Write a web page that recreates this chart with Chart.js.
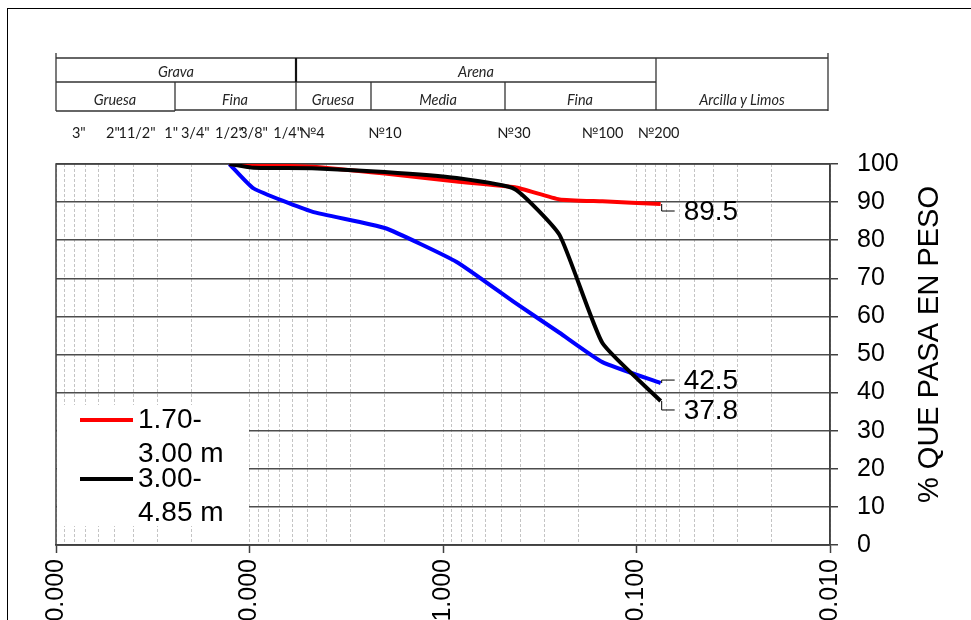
<!DOCTYPE html>
<html>
<head>
<meta charset="utf-8">
<script src="https://cdn.jsdelivr.net/npm/chart.js@4.4.1/dist/chart.umd.min.js"></script>
<style>
  html, body { margin:0; padding:0; width:971px; height:620px; overflow:hidden; background:#fff; }
  #frame { position:absolute; left:7px; top:8px; width:1100px; height:900px; border:1.5px solid #000; box-sizing:border-box; }
  #wrap { position:absolute; left:0; top:0; width:971px; height:680px; }
  #chart { position:absolute; left:0; top:0; }
  #table { position:absolute; left:0; top:0; }
  .hdr { font-family: Lato, "Open Sans", sans-serif; font-style:italic; font-size:14.5px; fill:#262626; }
  .sieve { position:absolute; top:124px; transform:translateX(-50%); font-family: Lato, "Noto Sans", sans-serif; font-size:14.5px; color:#1a1a1a; white-space:nowrap; line-height:18px; }
  #legend { position:absolute; left:57px; top:405px; width:192px; height:121px; background:#fff; }
  .lg-line { position:absolute; left:80px; width:53px; height:4px; }
  .lg-text { position:absolute; left:138px; font-family:"Liberation Sans", Arial, sans-serif; font-size:28px; line-height:34px; color:#000; white-space:nowrap; }
</style>
</head>
<body>
<div id="frame"></div>
<div id="wrap">
  <canvas id="chart" width="971" height="680"></canvas>
  <svg id="table" width="971" height="160">
    <g stroke="#333" stroke-width="1.3" fill="none">
      <line x1="56" y1="58" x2="828" y2="58"/>
      <line x1="56" y1="53" x2="56" y2="111"/>
      <line x1="828" y1="53" x2="828" y2="111"/>
      <line x1="56" y1="82" x2="656" y2="82"/>
      <line x1="56" y1="111" x2="175" y2="111"/>
      <line x1="175" y1="110" x2="828" y2="110"/>
      <line x1="175" y1="82" x2="175" y2="111"/>
      <line x1="296" y1="58" x2="296" y2="82" stroke-width="2.2" stroke="#111"/>
      <line x1="296" y1="82" x2="296" y2="110"/>
      <line x1="371" y1="82" x2="371" y2="110"/>
      <line x1="505" y1="82" x2="505" y2="110"/>
      <line x1="656" y1="58" x2="656" y2="110"/>
    </g>
    <g id="hdrText" text-anchor="middle"></g>
  </svg>
  <div id="legend"></div>
</div>
<script>
// ---- data ----
const sieveSizes   = [12.7, 9.525, 4.75, 2.0, 0.85, 0.425, 0.25, 0.15, 0.075];      // mm
const pass170_300  = [100, 99.7, 99.3, 97.5, 95.4, 93.9, 90.7, 90.2, 89.5];
const pass300_485  = [100, 99.0, 98.9, 97.9, 96.3, 93.4, 81.4, 53.0, 37.8];
const passBlue     = [100, 93.6, 87.5, 83.2, 74.3, 63.6, 55.7, 48.0, 42.5];
const seriesNames  = ['1.70-3.00 m', '3.00-4.85 m', ''];
const seriesColors = ['#ff0000', '#000000', '#0000ff'];

const xGridValues = [0.01,0.02,0.03,0.04,0.05,0.06,0.07,0.08,0.09,
                     0.1,0.2,0.3,0.4,0.5,0.6,0.7,0.8,0.9,
                     1,2,3,4,5,6,7,8,9,
                     10,20,30,40,50,60,70,80,90,100];
const xDecades = [0.01, 0.1, 1, 10, 100];

const sieveLabelSizes = [76.2, 50.8, 38.1, 25.4, 19.05, 12.7, 9.525, 6.35, 4.75, 2.0, 0.43, 0.15, 0.077];
const sieveLabelTexts = ['3"', '2"', '11/2"', '1"', '3/4"', '1/2"', '3/8"', '1/4"', '№4', '№10', '№30', '№100', '№200'];

const headerTop = [['Grava', 176, 77], ['Arena', 476, 77]];
const headerSub = [['Gruesa', 115, 105], ['Fina', 235, 105], ['Gruesa', 333, 105], ['Media', 438, 105], ['Fina', 580, 105], ['Arcilla y Limos', 742, 105]];
const yTitle = '% QUE PASA EN PESO';

// ---- header texts ----
const hg = document.getElementById('hdrText');
[...headerTop, ...headerSub].forEach(([t, x, y]) => {
  const el = document.createElementNS('http://www.w3.org/2000/svg', 'text');
  el.setAttribute('x', x); el.setAttribute('y', y); el.setAttribute('class', 'hdr');
  el.textContent = t; hg.appendChild(el);
});

const isDecade = v => Math.abs(Math.log10(v) - Math.round(Math.log10(v))) < 1e-9;
const FONT = '"Liberation Sans", Arial, sans-serif';
Chart.defaults.font.family = FONT;

const labelOffsets = [7, 9, -3]; // vertical offset of end labels

const endLabels = {
  id: 'endLabels',
  afterDatasetsDraw(chart) {
    const ctx = chart.ctx;
    chart.data.datasets.forEach((ds, i) => {
      const meta = chart.getDatasetMeta(i);
      const pt = meta.data[meta.data.length - 1];
      const val = ds.data[ds.data.length - 1].y;
      const ly = pt.y + labelOffsets[i];
      ctx.save();
      ctx.strokeStyle = '#000'; ctx.lineWidth = 1;
      ctx.beginPath();
      ctx.moveTo(pt.x + 1, pt.y); ctx.lineTo(pt.x + 1, ly); ctx.lineTo(pt.x + 14, ly);
      ctx.stroke();
      ctx.fillStyle = '#000'; ctx.font = '28px ' + FONT;
      ctx.textBaseline = 'middle'; ctx.textAlign = 'left';
      ctx.fillText(val.toFixed(1), pt.x + 23, ly + 1);
      ctx.restore();
    });
  }
};

const frame = {
  id: 'frame',
  beforeDatasetsDraw(chart) {
    const {ctx, chartArea: a} = chart;
    ctx.save(); ctx.strokeStyle = '#404040'; ctx.lineWidth = 1.5;
    ctx.strokeRect(a.left, a.top, a.right - a.left, a.bottom - a.top);
    ctx.restore();
  },
  afterDraw(chart) {
    const {ctx, chartArea: a} = chart;
    ctx.save();
    ctx.translate(930, (a.top + a.bottom) / 2 - 10);
    ctx.rotate(-Math.PI / 2);
    ctx.font = '29px ' + FONT; ctx.fillStyle = '#000';
    ctx.textAlign = 'center'; ctx.textBaseline = 'middle';
    ctx.fillText(yTitle, 0, 0);
    ctx.restore();
  }
};

const series = [pass170_300, pass300_485, passBlue];
const chart = new Chart(document.getElementById('chart'), {
  type: 'line',
  data: {
    datasets: series.map((arr, i) => ({
      label: seriesNames[i],
      data: sieveSizes.map((s, j) => ({x: s, y: arr[j]})),
      borderColor: seriesColors[i],
      borderWidth: 4,
      pointRadius: 0,
      tension: 0.15,
      fill: false,
      order: [1, 0, 2][i]
    }))
  },
  options: {
    responsive: false,
    animation: false,
    layout: { padding: { left: 56, top: 164, right: 0, bottom: 0 } },
    plugins: { legend: { display: false }, tooltip: { enabled: false } },
    scales: {
      x: {
        type: 'logarithmic',
        reverse: true,
        min: 0.01, max: 100,
        afterBuildTicks: s => { s.ticks = xGridValues.map(v => ({value: v, major: isDecade(v)})); },
        afterFit: s => { s.height = 135; },
        ticks: {
          autoSkip: false, minRotation: 90, maxRotation: 90, padding: 6,
          font: { size: 25 }, color: '#000',
          callback: v => isDecade(v) ? Number(v).toFixed(3) : ''
        },
        grid: {
          color: '#c4c4c4', lineWidth: 1, tickLength: 8,
          tickColor: c => (c.tick && isDecade(c.tick.value)) ? '#404040' : 'rgba(0,0,0,0)',
          tickWidth: 1.5
        },
        border: { color: '#404040', width: 1.5, dash: [3, 2] }
      },
      y: {
        position: 'right',
        min: 0, max: 100,
        afterFit: s => { s.width = 141; },
        ticks: { stepSize: 10, padding: 19, font: { size: 25 }, color: '#000' },
        grid: { color: '#4d4d4d', lineWidth: 1.5, tickLength: 8, tickColor: '#404040' },
        border: { color: '#404040', width: 1.5 }
      }
    }
  },
  plugins: [frame, endLabels]
});

// ---- sieve labels positioned through the x scale ----
const wrap = document.getElementById('wrap');
sieveLabelSizes.forEach((s, i) => {
  const d = document.createElement('div');
  d.className = 'sieve';
  d.textContent = sieveLabelTexts[i];
  d.style.left = chart.scales.x.getPixelForValue(s) + 'px';
  wrap.appendChild(d);
});

// ---- legend ----
let row = 0;
chart.data.datasets.forEach((ds, i) => {
  if (!ds.label) return;
  const top = 402 + 59 * row;
  const line = document.createElement('div');
  line.className = 'lg-line';
  line.style.top = (top + 16) + 'px';
  line.style.background = ds.borderColor;
  const txt = document.createElement('div');
  txt.className = 'lg-text';
  txt.style.top = top + 'px';
  const parts = ds.label.split('-');
  txt.appendChild(document.createTextNode(parts[0] + '-'));
  txt.appendChild(document.createElement('br'));
  txt.appendChild(document.createTextNode(parts.slice(1).join('-')));
  wrap.appendChild(line); wrap.appendChild(txt);
  row++;
});
</script>
</body>
</html>
